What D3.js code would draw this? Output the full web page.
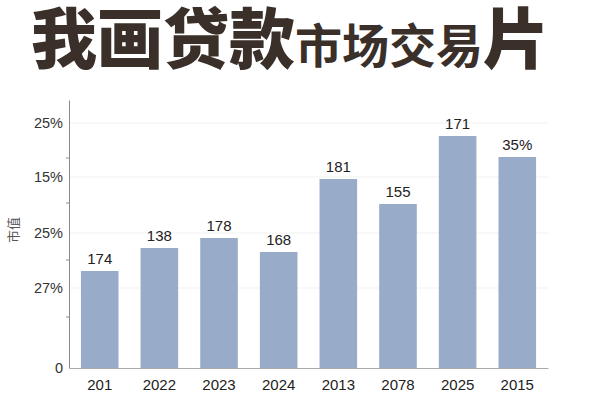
<!DOCTYPE html>
<html>
<head>
<meta charset="utf-8">
<script src="https://cdn.jsdelivr.net/npm/d3@7"></script>
<style>
  html, body { margin: 0; padding: 0; background: #fff; }
  svg { display: block; }
</style>
</head>
<body>
<div id="chart"></div>
<script>
const categories = ['201', '2022', '2023', '2024', '2013', '2078', '2025', '2015'];
const values = [9.7, 12.0, 13.0, 11.6, 18.9, 16.4, 23.2, 21.1];
const valueLabels = ['174', '138', '178', '168', '181', '155', '171', '35%'];
const yTickValues = [0, 8.0, 13.5, 19.1, 24.5];
const yTickLabels = ['0', '27%', '25%', '15%', '25%'];
const yMinorTicks = [5.1, 10.8, 16.5, 21.0];

const width = 600, height = 400;
const margin = { top: 100, right: 52, bottom: 32, left: 69 };

const svg = d3.select('#chart')
  .append('svg')
  .attr('width', width)
  .attr('height', height)
  .attr('viewBox', `0 0 ${width} ${height}`)
  .attr('font-family', '"Liberation Sans", Arial, sans-serif');

// title, big and small characters mixed
const title = svg.append('text')
  .attr('x', 31)
  .attr('y', 63)
  .attr('fill', '#3a2f29')
  .attr('font-family', '"Noto Sans CJK SC", sans-serif')
  .attr('font-weight', 900);
title.append('tspan').attr('font-size', 66).text('我画贷款');
title.append('tspan').attr('font-size', 47).attr('font-weight', 700).text('市场交易');
title.append('tspan').attr('font-size', 66).text('片');

const x = d3.scaleBand()
  .domain(categories)
  .range([margin.left, width - margin.right])
  .paddingInner(0.37)
  .paddingOuter(0.2);

const y = d3.scaleLinear()
  .domain([0, 26.8])
  .range([height - margin.bottom, margin.top]);

// faint grid lines
svg.append('g')
  .selectAll('line')
  .data(yTickValues.slice(1))
  .join('line')
  .attr('x1', margin.left)
  .attr('x2', width - margin.right)
  .attr('y1', d => y(d))
  .attr('y2', d => y(d))
  .attr('stroke', '#f1f1f1');

// bars
svg.append('g')
  .selectAll('rect')
  .data(values)
  .join('rect')
  .attr('x', (d, i) => x(categories[i]))
  .attr('y', d => y(d))
  .attr('width', x.bandwidth())
  .attr('height', d => y(0) - y(d))
  .attr('fill', '#98abc9');

svg.append('g')
  .selectAll('text')
  .data(values)
  .join('text')
  .attr('x', (d, i) => x(categories[i]) + x.bandwidth() / 2)
  .attr('y', d => y(d) - 7)
  .attr('text-anchor', 'middle')
  .attr('font-size', 15)
  .attr('fill', '#222')
  .text((d, i) => valueLabels[i]);

// y axis
const yAxis = svg.append('g')
  .attr('transform', `translate(${margin.left},0)`)
  .call(d3.axisLeft(y)
    .tickValues(yTickValues)
    .tickFormat((d, i) => yTickLabels[i])
    .tickSize(0)
    .tickPadding(6));
yAxis.select('.domain').attr('stroke', '#8a8a8a');
yAxis.selectAll('text').attr('font-size', 14.5).attr('fill', '#333')
  .attr('font-family', '"Liberation Sans", Arial, sans-serif');

yAxis.append('g')
  .selectAll('line')
  .data(yMinorTicks)
  .join('line')
  .attr('x1', -3)
  .attr('x2', 0)
  .attr('y1', d => y(d))
  .attr('y2', d => y(d))
  .attr('stroke', '#8a8a8a');

// x axis
const xAxis = svg.append('g')
  .attr('transform', `translate(0,${y(0)})`)
  .call(d3.axisBottom(x).tickSize(0).tickPadding(11));
xAxis.select('.domain').attr('stroke', '#aaa');
xAxis.selectAll('text').attr('font-size', 15).attr('fill', '#222')
  .attr('font-family', '"Liberation Sans", Arial, sans-serif');

// y label
svg.append('text')
  .attr('transform', 'translate(18,230) rotate(-90)')
  .attr('text-anchor', 'middle')
  .attr('font-size', 13)
  .attr('fill', '#555')
  .attr('font-family', '"Noto Sans CJK SC", sans-serif')
  .text('市值');
</script>
</body>
</html>
